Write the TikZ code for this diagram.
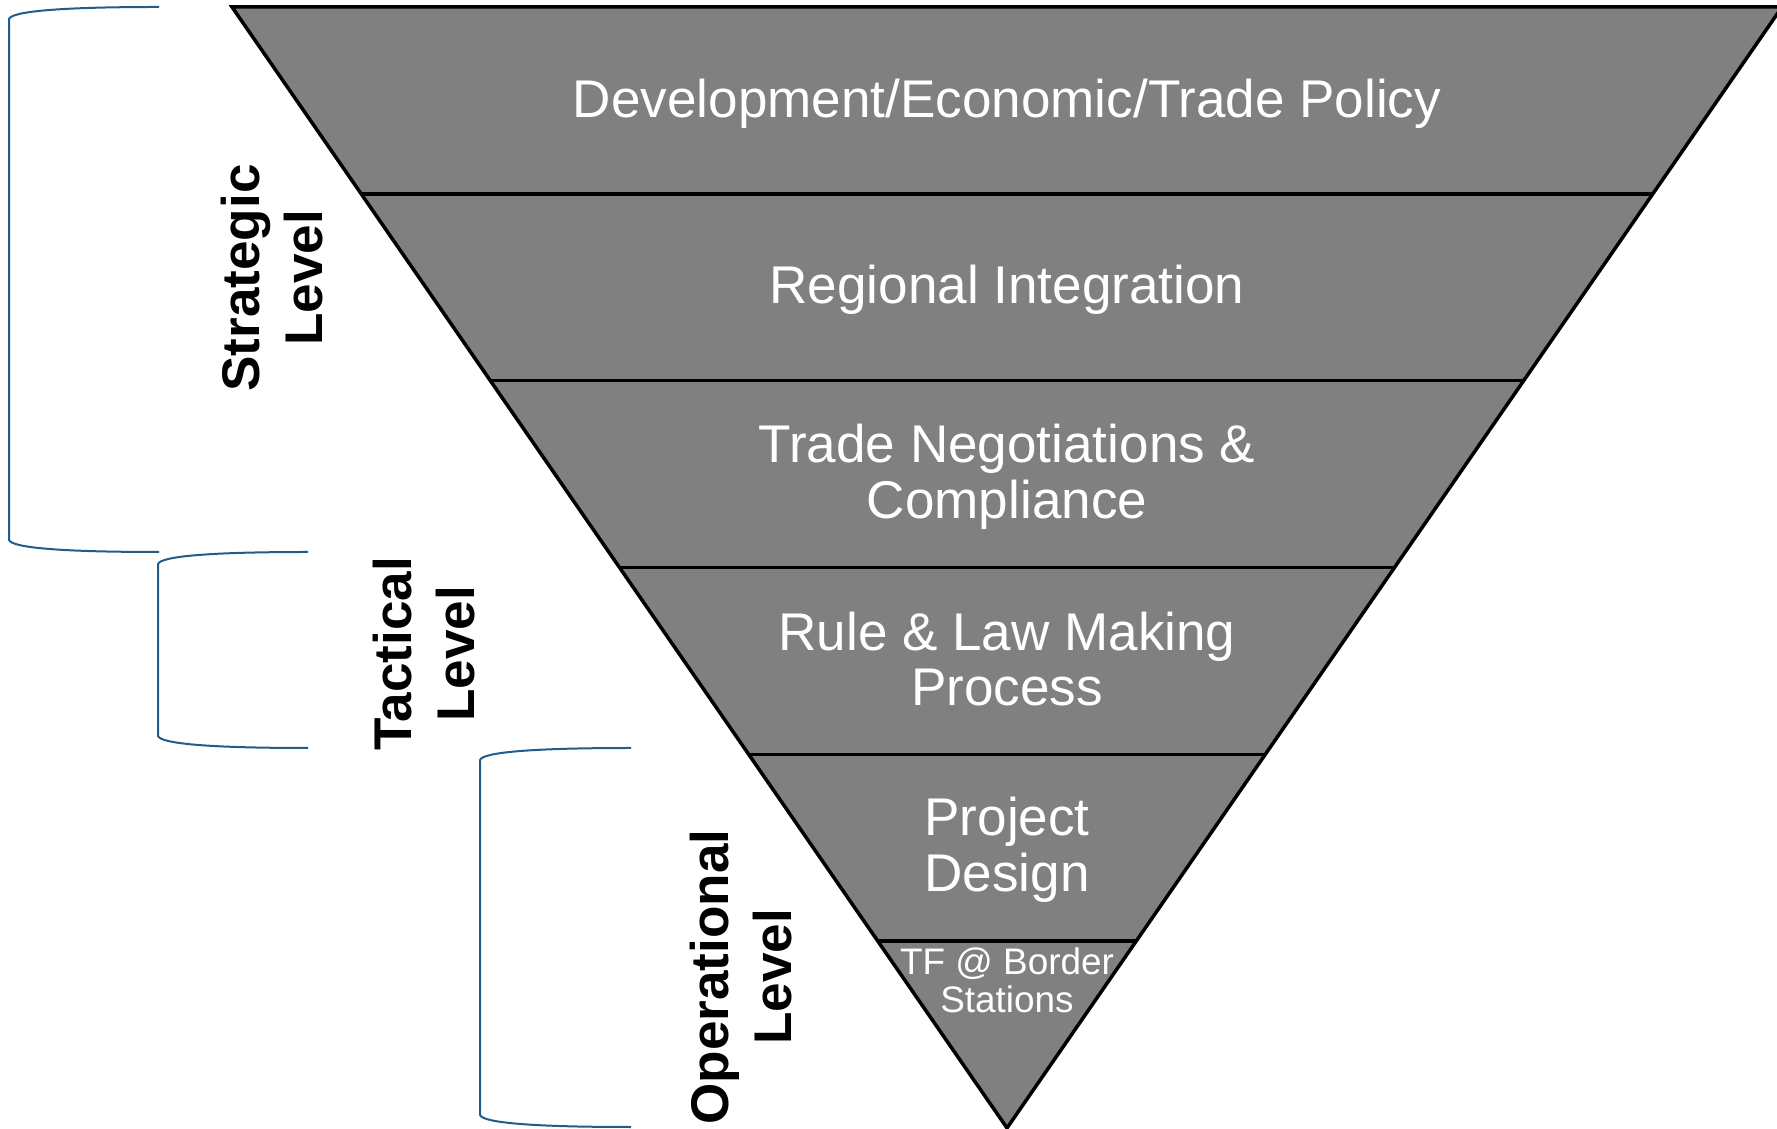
\documentclass[tikz,border=0pt]{standalone}
\usepackage{fontspec}
\setmainfont{Liberation Sans}
\usetikzlibrary{calc}

\definecolor{bandgray}{RGB}{128,128,128}
\definecolor{bracketblue}{RGB}{33,92,138}

\begin{document}
\begin{tikzpicture}[x=0.1mm,y=-0.1mm,
		band/.style={text=white,align=center,font=\fontsize{15.1}{15.8}\selectfont},
		small band/.style={text=white,align=center,font=\fontsize{10.5}{10.8}\selectfont},
		level/.style={rotate=90,align=center,font=\fontsize{15.1}{17.9}\selectfont\bfseries},
		bracket/.style={draw=bracketblue,line width=0.2mm}]
		
		\useasboundingbox (0,0) rectangle (1777,1129);
		
		% Funnel
		% Corner points
		\coordinate (tl) at (232,7);
		\coordinate (tr) at (1782,7);
		\coordinate (apex) at (1007,1128);
		
		% Draw outline
		\filldraw[fill=bandgray,draw=black,line width=0.35mm] (tl) -- (tr) -- (apex) -- cycle;
		
		% Draw band lines
		\foreach \k in {1,...,5}
			\draw[line width=0.35mm] ($(tl)!\k/6!(apex)$) -- ($(tr)!\k/6!(apex)$);
		
		
		% Band texts
		\node[band] (policy) at (1007,104) {Development/Economic/Trade Policy};
		\node[band] (regional) at (1007,290) {Regional Integration};
		\node[band] (trade) at (1007,477) {Trade Negotiations \&\\Compliance};
		\node[band] (rule) at (1007,659) {Rule \& Law Making\\Process};
		\node[band] (project) at (1007,850) {Project\\Design};
		\node[small band] (tf) at (1007,980) {TF @ Border\\Stations};
		
		
		% Left brackets
		\foreach \xl/\xr/\ya/\yb in {9/159/7/552, 158/308/552/748, 480/631/748/1127}
			\draw[bracket] (\xr,\ya) .. controls (\xl+55,\ya) and (\xl+3,\ya+4) .. (\xl,\ya+12)
				-- (\xl,\yb-12) .. controls (\xl+3,\yb-4) and (\xl+55,\yb) .. (\xr,\yb);
		
		% Level labels
		\node[level] (strategic) at (272,278) {Strategic\\Level};
		\node[level] (tactical) at (424,654) {Tactical\\Level};
		\node[level] (operational) at (741,977) {Operational\\Level};
		
	\end{tikzpicture}
\end{document}
